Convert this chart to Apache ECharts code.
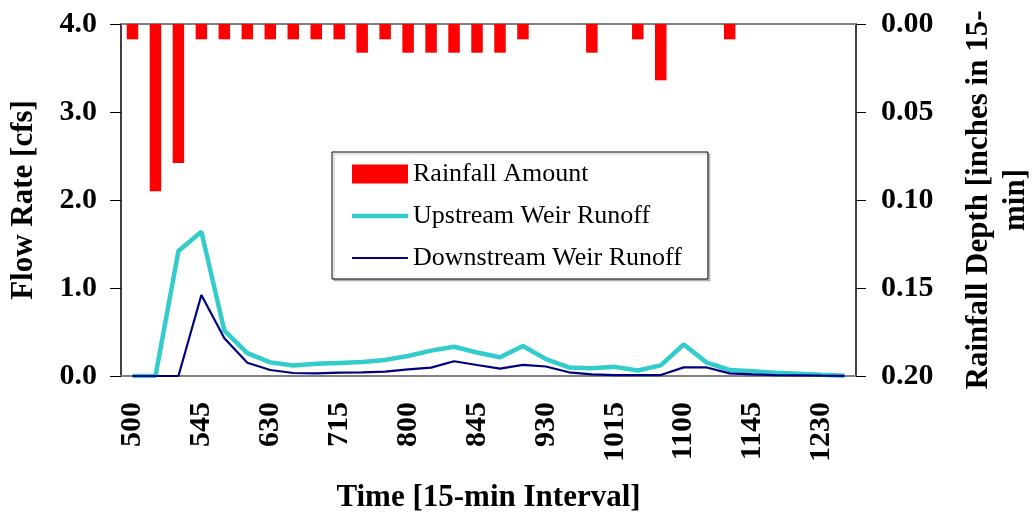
<!DOCTYPE html>
<html>
<head>
<meta charset="utf-8">
<script src="https://cdn.jsdelivr.net/npm/echarts@6/dist/echarts.min.js"></script>
<style>
html,body{margin:0;padding:0;background:#fff;overflow:hidden;}
#chart{width:1032px;height:514px;}
</style>
</head>
<body>
<div id="chart"></div>
<script>
const categories = ['500','515','530','545','600','615','630','645','700','715','730','745','800','815','830','845','900','915','930','945','1000','1015','1030','1045','1100','1115','1130','1145','1200','1215','1230','1245'];
const rainfall = [0.0087,0.095,0.079,0.0087,0.0087,0.0087,0.0087,0.0087,0.0087,0.0087,0.0163,0.0087,0.0163,0.0163,0.0163,0.0163,0.0163,0.0087,0,0,0.0163,0,0.0087,0.032,0,0,0.0087,0,0,0,0,0];
const upstream = [0,0,1.42,1.64,0.515,0.26,0.155,0.12,0.14,0.148,0.159,0.183,0.227,0.288,0.333,0.267,0.213,0.34,0.192,0.097,0.089,0.104,0.062,0.121,0.358,0.152,0.068,0.053,0.038,0.027,0.015,0.004];
const downstream = [0,0,0,0.92,0.43,0.15,0.068,0.034,0.03,0.038,0.042,0.05,0.076,0.095,0.168,0.125,0.083,0.127,0.108,0.042,0.019,0.011,0.011,0.011,0.098,0.097,0.03,0.019,0.011,0.008,0.004,0.002];
const flowTicks = {min:0, max:4, interval:1};
const rainTicks = {min:0, max:0.2, interval:0.05};

const serif = '"Liberation Serif","Times New Roman",serif';
const chart = echarts.init(document.getElementById('chart'), null, {renderer:'canvas'});
chart.setOption({
  animation:false,
  backgroundColor:'#fff',
  grid:{left:121, right:176, top:24, bottom:138, containLabel:false, outerBoundsMode:'none'},
  legend:{
    orient:'vertical', left:332, top:152,
    borderColor:'#000', borderWidth:1, backgroundColor:'#fff',
    shadowColor:'rgba(0,0,0,0.22)', shadowOffsetX:2, shadowOffsetY:2, shadowBlur:0,
    padding:[9,26,8,20],
    itemWidth:56, itemHeight:19, itemGap:16,
    textStyle:{fontFamily:serif, fontSize:26, color:'#000'},
    data:[
      {name:'Rainfall Amount', icon:'rect'},
      {name:'Upstream Weir Runoff', icon:'path://M0,0 L56,0 L56,4.5 L0,4.5 Z'},
      {name:'Downstream Weir Runoff', icon:'path://M0,0 L56,0 L56,2 L0,2 Z'}
    ]
  },
  xAxis:[{
    type:'category', data:categories, position:'bottom', boundaryGap:true,
    axisLine:{show:true, onZero:false, lineStyle:{color:'#808080', width:2}},
    axisTick:{show:false},
    axisLabel:{interval:2, rotate:90, margin:26, fontFamily:serif, fontWeight:'bold', fontSize:30, color:'#000'},
    name:'Time [15-min Interval]', nameLocation:'middle', nameGap:106,
    nameTextStyle:{fontFamily:serif, fontWeight:'bold', fontSize:31, color:'#000'},
    splitLine:{show:false}
  },{
    type:'category', data:categories, position:'top', boundaryGap:true,
    axisLine:{show:true, onZero:false, lineStyle:{color:'#808080', width:2}},
    axisTick:{show:false}, axisLabel:{show:false}, splitLine:{show:false}
  }],
  yAxis:[{
    type:'value', position:'left', min:flowTicks.min, max:flowTicks.max, interval:flowTicks.interval,
    axisLine:{show:true, lineStyle:{color:'#404040', width:2}},
    axisTick:{show:true, inside:false, length:11, lineStyle:{color:'#000', width:1}},
    axisLabel:{margin:24, fontFamily:serif, fontWeight:'bold', fontSize:30, color:'#000', formatter:v=>v.toFixed(1)},
    splitLine:{show:false},
    name:'Flow Rate [cfs]', nameLocation:'middle', nameGap:82, nameRotate:90,
    nameTextStyle:{fontFamily:serif, fontWeight:'bold', fontSize:31, color:'#000'}
  },{
    type:'value', position:'right', inverse:true, min:rainTicks.min, max:rainTicks.max, interval:rainTicks.interval,
    axisLine:{show:true, lineStyle:{color:'#404040', width:2}},
    axisTick:{show:true, inside:false, length:10, lineStyle:{color:'#000', width:1}},
    axisLabel:{margin:25, fontFamily:serif, fontWeight:'bold', fontSize:30, color:'#000', formatter:v=>v.toFixed(2)},
    splitLine:{show:false},
    name:'Rainfall Depth [inches in 15-\nmin]', nameLocation:'middle', nameGap:104, nameRotate:90,
    nameTextStyle:{fontFamily:serif, fontWeight:'bold', fontSize:31, color:'#000', lineHeight:37, align:'center'}
  }],
  series:[{
    name:'Rainfall Amount', type:'bar', xAxisIndex:0, yAxisIndex:1, data:rainfall,
    barWidth:'50%', itemStyle:{color:'#FF0000'}, z:2
  },{
    name:'Upstream Weir Runoff', type:'line', xAxisIndex:0, yAxisIndex:0, data:upstream,
    symbol:'none', lineStyle:{color:'#33CCCC', width:4.5}, itemStyle:{color:'#33CCCC'}, z:3
  },{
    name:'Downstream Weir Runoff', type:'line', xAxisIndex:0, yAxisIndex:0, data:downstream,
    symbol:'none', lineStyle:{color:'#000080', width:2.2}, itemStyle:{color:'#000080'}, z:4
  }]
});
</script>
</body>
</html>
